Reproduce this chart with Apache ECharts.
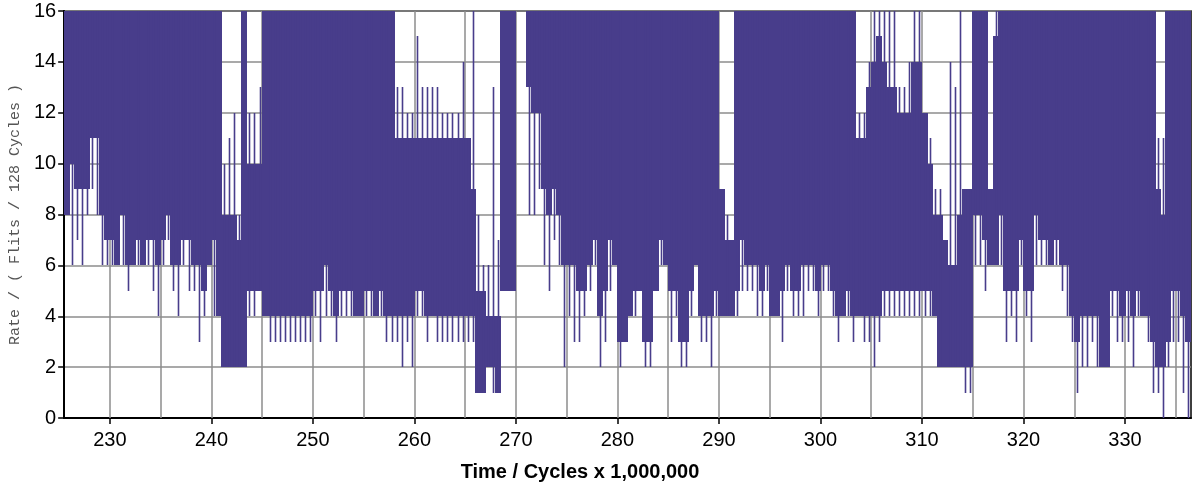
<!DOCTYPE html>
<html>
<head>
<meta charset="utf-8">
<script src="https://cdn.jsdelivr.net/npm/echarts@6/dist/echarts.min.js"></script>
<style>
  html, body { margin: 0; padding: 0; background: #fff; }
  #chart { width: 1193px; height: 484px; }
</style>
</head>
<body>
<div id="chart"></div>
<script>
// Injection rate over time, summarised in bins of 0.5 M cycles.
// For every bin: peak / trough = extreme values reached by the rate,
// upper / lower = the band the rate keeps switching inside.
const binStartTime = 225.5;   // Cycles x 1,000,000
const binWidth = 0.5;

const peak = [
  16,16,16,16,16,16,16,16,16,16,
  16,16,16,16,16,16,16,16,16,16,
  16,16,16,16,16,16,16,16,16,16,
  16,10,11,12, 8,16,12,12,13,16,
  16,16,16,16,16,16,16,16,16,16,
  16,16,16,16,16,16,16,16,16,16,
  16,16,16,16,16,13,13,12,12,15,
  13,13,13,13,12,12,12,12,14,11,
  16, 8, 6, 6,13, 7,16,16,16,null,
  null,16,16,16,16,16,16,16,16,16,
  16,16,16,16,16,16,16,16,16,16,
  16,16,16,16,16,16,16,16,16,16,
  16,16,16,16,16,16,16,16,16, 9,
   8, 7,16,16,16,16,16,16,16,16,
  16,16,16,16,16,16,16,16,16,16,
  16,16,16,16,16,16,12,12,14,16,
  16,16,16,16,13,13,14,16,16,12,
  11, 9, 9, 7,14,13,16, 9, 9,16,
  16,16, 9,16,16,16,16,16,16,16,
  16,16,16,16,16,16,16,16,16,16,
  16,16,16,16,16,16,16,16,16,16,
  16,16,16,16,16,11,11,16,16,16,
  16,16
];

const upper = [
  16,16,16,16,16,16,16,16,16,16,
  16,16,16,16,16,16,16,16,16,16,
  16,16,16,16,16,16,16,16,16,16,
  16, 8, 8, 8, 7,16,10,10,10,16,
  16,16,16,16,16,16,16,16,16,16,
  16,16,16,16,16,16,16,16,16,16,
  16,16,16,16,16,11,11,11,11,11,
  11,11,11,11,11,11,11,11,11,11,
   9, 5, 5, 4, 4, 4,16,16,16,null,
  null,16,16,16,16,16,16,16,16,16,
  16,16,16,16,16,16,16,16,16,16,
  16,16,16,16,16,16,16,16,16,16,
  16,16,16,16,16,16,16,16,16, 9,
   7, 7,16,16,16,16,16,16,16,16,
  16,16,16,16,16,16,16,16,16,16,
  16,16,16,16,16,16,11,11,13,14,
  15,14,13,13,12,12,12,14,14,12,
  10, 8, 8, 7, 6, 6, 8, 9, 9,16,
  16,16, 9,15,16,16,16,16,16,16,
  16,16,16,16,16,16,16,16,16,16,
  16,16,16,16,16,16,16,16,16,16,
  16,16,16,16,16, 9, 8,16,16,16,
  16,16
];

const lower = [
   8,10, 9, 9, 9,11,11, 8, 7, 7,
   6, 8, 6, 6, 7, 6, 7, 7, 6, 7,
   8, 6, 6, 7, 7, 6, 6, 5, 6, 7,
   4, 2, 2, 2, 2, 2, 5, 5, 5, 4,
   4, 4, 4, 4, 4, 4, 4, 4, 4, 5,
   5, 6, 5, 4, 5, 5, 5, 4, 4, 5,
   5, 4, 5, 4, 4, 4, 4, 4, 4, 5,
   5, 4, 4, 4, 4, 4, 4, 4, 4, 4,
   4, 1, 1, 2, 2, 1, 5, 5, 5,null,
  null,13,12,12, 9, 8, 9, 8, 6, 6,
   6, 5, 5, 6, 7, 4, 5, 7, 6, 3,
   3, 4, 5, 5, 3, 3, 5, 7, 6, 5,
   5, 3, 3, 5, 6, 4, 4, 4, 5, 4,
   4, 4, 5, 7, 6, 6, 6, 5, 6, 4,
   4, 5, 6, 5, 5, 6, 6, 6, 5, 6,
   6, 5, 4, 4, 5, 4, 4, 4, 4, 4,
   4, 5, 5, 5, 5, 5, 5, 5, 5, 5,
   5, 4, 2, 2, 2, 2, 2, 2, 2, 8,
   8, 7, 6, 6, 8, 5, 5, 5, 7, 5,
   5, 8, 7, 7, 6, 7, 6, 6, 4, 3,
   4, 4, 4, 4, 2, 2, 5, 5, 4, 5,
   4, 5, 4, 4, 3, 2, 2, 3, 5, 5,
   4, 3
];

const trough = [
   8, 6, 7, 6, 8, 9, 8, 6, 6, 6,
   6, 6, 5, 6, 6, 6, 6, 5, 4, 6,
   7, 5, 4, 6, 5, 5, 3, 4, 6, 4,
   4, 2, 2, 2, 2, 2, 4, 4, 5, 4,
   3, 3, 3, 3, 3, 3, 3, 3, 3, 4,
   3, 4, 4, 3, 4, 4, 4, 4, 4, 4,
   4, 4, 4, 3, 3, 3, 2, 3, 2, 4,
   4, 3, 4, 3, 3, 3, 3, 3, 3, 3,
   3, 1, 1, 2, 1, 1, 5, 5, 5,null,
  null, 8, 8, 9, 6, 5, 7, 6, 2, 4,
   3, 3, 4, 5, 6, 2, 3, 5, 6, 2,
   3, 4, 4, 5, 2, 2, 5, 6, 6, 3,
   4, 2, 2, 4, 6, 3, 3, 2, 4, 4,
   4, 4, 4, 5, 5, 5, 4, 4, 5, 4,
   4, 3, 5, 4, 4, 4, 5, 5, 4, 5,
   5, 4, 3, 4, 4, 3, 4, 3, 3, 2,
   3, 4, 4, 4, 4, 4, 4, 4, 4, 4,
   4, 4, 2, 2, 2, 2, 2, 1, 1, 6,
   6, 5, 6, 6, 6, 3, 4, 3, 6, 4,
   3, 6, 6, 6, 6, 6, 5, 4, 3, 1,
   2, 2, 3, 2, 2, 2, 4, 3, 3, 3,
   2, 4, 4, 3, 1, 1, 0, 2, 3, 3,
   1, 0
];

const xLabelValues = [230, 240, 250, 260, 270, 280, 290, 300, 310, 320, 330];
const xGridValues = [230, 235, 240, 245, 250, 255, 260, 265, 270, 275, 280, 285,
                     290, 295, 300, 305, 310, 315, 320, 325, 330, 335];

const LINE_COLOR = '#483d8b';
const GRID_COLOR = '#8c8c8c';
const FONT = '"Liberation Sans", Arial, sans-serif';

const bins = [];
for (let i = 0; i < peak.length; i++) {
  if (peak[i] == null) continue;
  bins.push([binStartTime + i * binWidth, peak[i], upper[i], lower[i], trough[i]]);
}

function renderBin(params, api) {
  const t0 = api.value(0);
  const pk = api.value(1), up = api.value(2), lo = api.value(3), tr = api.value(4);
  const a = api.coord([t0, up]);
  const b = api.coord([t0 + binWidth, lo]);
  // snap to whole pixels so neighbouring bins join without seams
  const left = Math.floor(a[0]);
  const right = Math.ceil(b[0]);
  const children = [{
    type: 'rect',
    shape: { x: left, y: Math.round(a[1]), width: right - left, height: Math.round(b[1]) - Math.round(a[1]) },
    style: { fill: LINE_COLOR }
  }];
  if (pk > up || tr < lo) {
    const m1 = api.coord([t0 + binWidth * 0.5, pk]);
    const m2 = api.coord([t0 + binWidth * 0.5, tr]);
    const xm = Math.round(m1[0]) + 0.5;
    children.push({
      type: 'line',
      shape: { x1: xm, y1: Math.round(m1[1]), x2: xm, y2: Math.round(m2[1]) },
      style: { stroke: LINE_COLOR, lineWidth: 1.6 }
    });
  }
  return { type: 'group', children: children };
}

const chart = echarts.init(document.getElementById('chart'), null, { renderer: 'canvas' });
chart.setOption({
  animation: false,
  backgroundColor: '#ffffff',
  grid: {
    left: 64, right: 2, top: 11, bottom: 66,
    show: true, borderColor: '#000', borderWidth: 1.5, backgroundColor: 'transparent'
  },
  xAxis: {
    type: 'value',
    min: 225.5,
    max: 336.5,
    axisLine: { show: true, onZero: false, lineStyle: { color: '#000', width: 2 } },
    axisTick: { show: true, customValues: xLabelValues, length: 6, lineStyle: { color: '#000', width: 1.5 } },
    axisLabel: { customValues: xLabelValues, fontSize: 20, color: '#000', fontFamily: FONT, margin: 12 },
    splitLine: { show: false }
  },
  yAxis: {
    type: 'value',
    min: 0,
    max: 16,
    interval: 2,
    name: 'Rate / ( Flits / 128 Cycles )',
    nameLocation: 'middle',
    nameGap: 39,
    nameTextStyle: { fontFamily: '"Liberation Mono", "DejaVu Sans Mono", monospace', fontSize: 15, color: '#555' },
    axisLine: { show: true, lineStyle: { color: '#000', width: 2 } },
    axisTick: { show: true, length: 6, lineStyle: { color: '#000', width: 1.5 } },
    axisLabel: { fontSize: 20, color: '#000', fontFamily: FONT, margin: 8 },
    splitLine: { show: true, lineStyle: { color: GRID_COLOR, width: 1.5 } }
  },
  graphic: [{
    type: 'text',
    x: 580,
    y: 472,
    style: {
      text: 'Time / Cycles x 1,000,000',
      fontSize: 20, fontWeight: 'bold', fontFamily: FONT, fill: '#000',
      align: 'center', verticalAlign: 'middle'
    }
  }],
  series: [
    {
      // vertical grid lines every 5 M cycles
      type: 'line',
      data: [],
      silent: true,
      markLine: {
        silent: true,
        symbol: 'none',
        animation: false,
        label: { show: false },
        lineStyle: { color: GRID_COLOR, width: 1.5, type: 'solid' },
        data: xGridValues.map(v => ({ xAxis: v }))
      }
    },
    {
      type: 'custom',
      z: 10,
      clip: true,
      renderItem: renderBin,
      encode: { x: 0, y: [1, 2, 3, 4] },
      data: bins
    }
  ]
});
</script>
</body>
</html>
